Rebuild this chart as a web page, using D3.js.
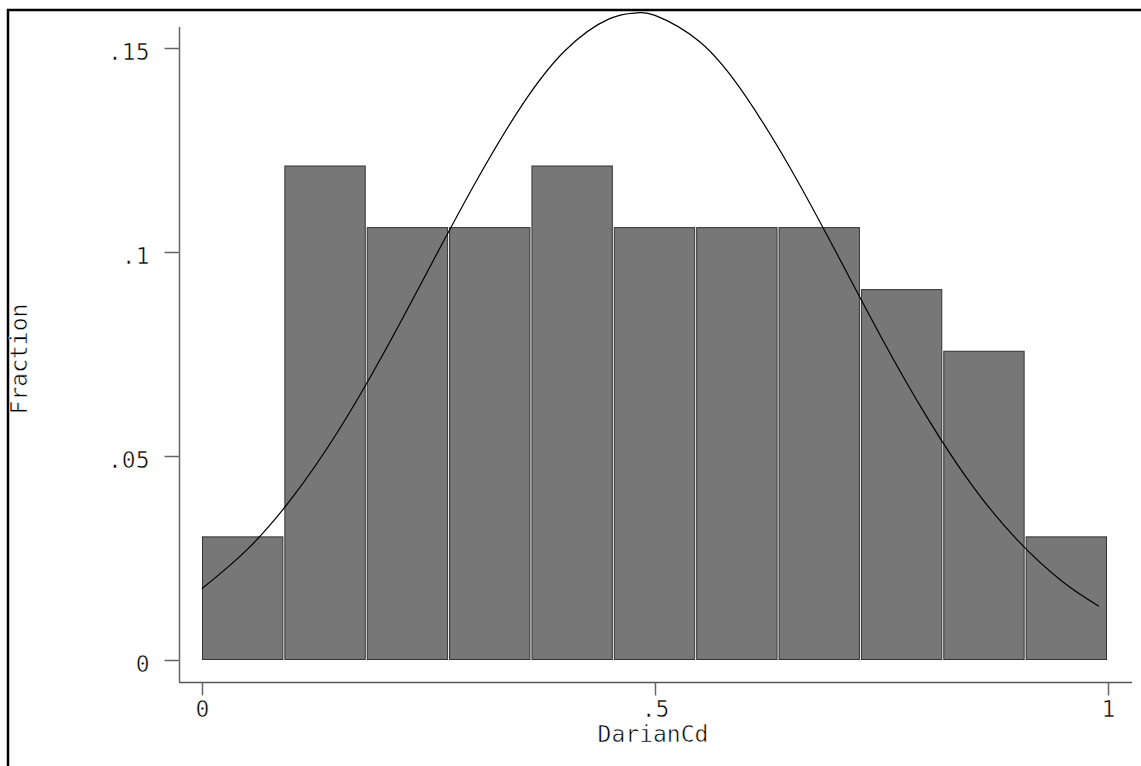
<!doctype html>
<html lang="en">
<head>
  <meta charset="utf-8">
  <title>DarianCd histogram</title>
  <style>
    body { margin: 0; background: #fff; }
    text {
      font-family: "DejaVu Sans Mono", monospace;
      font-size: 23px;
      fill: #000;
      stroke: #fff;
      stroke-width: 0.55px;
    }
  </style>
</head>
<body>
  <div id="vis"></div>
  <script src="https://cdn.jsdelivr.net/npm/d3@7/dist/d3.min.js"></script>
  <script>
    // bin fractions (11 equal bins over 0..1)
    const binStarts = [0, 1/11, 2/11, 3/11, 4/11, 5/11, 6/11, 7/11, 8/11, 9/11, 10/11];
    const binEnds = [1/11, 2/11, 3/11, 4/11, 5/11, 6/11, 7/11, 8/11, 9/11, 10/11, 1];
    const fractions = [0.0303, 0.1212, 0.1061, 0.1061, 0.1212, 0.1061, 0.1061, 0.1061, 0.0909, 0.0758, 0.0303];

    // normal overlay
    const curveX = [0, 0.05, 0.10, 0.15, 0.20, 0.25, 0.30, 0.35, 0.40, 0.45, 0.48, 0.50, 0.55, 0.60, 0.65, 0.70, 0.75, 0.80, 0.85, 0.90, 0.95, 0.99];
    const curveY = [0.0175, 0.0271, 0.0399, 0.0560, 0.0750, 0.0957, 0.1163, 0.1349, 0.1492, 0.1572, 0.1586, 0.1580, 0.1514, 0.1382, 0.1203, 0.0999, 0.0790, 0.0596, 0.0428, 0.0294, 0.0192, 0.0132];

    const xTicks = [0, 0.5, 1];
    const xTickLabels = ['0', '.5', '1'];
    const yTicks = [0, 0.05, 0.1, 0.15];
    const yTickLabels = ['0', '.05', '.1', '.15'];

    const w = 1141, h = 766;
    const axisX = 179, axisY = 682;

    const x = d3.scaleLinear().domain([0, 1]).range([202, 1108]);
    const y = d3.scaleLinear().domain([0, 0.15]).range([660, 48]);

    const svg = d3.select('#vis')
      .append('svg')
        .attr('width', w)
        .attr('height', h);

    // outer frame (only top/left visible)
    svg.append('rect')
      .attr('x', 8)
      .attr('y', 10)
      .attr('width', w + 20)
      .attr('height', h + 20)
      .attr('fill', 'none')
      .attr('stroke', '#000')
      .attr('stroke-width', 2.5);

    // bars
    svg.selectAll('.bar')
      .data(fractions)
      .enter()
      .append('rect')
        .attr('class', 'bar')
        .attr('x', (d, i) => x(binStarts[i]) + 0.5)
        .attr('y', d => y(d) + 0.5)
        .attr('width', (d, i) => x(binEnds[i]) - x(binStarts[i]) - 2)
        .attr('height', d => y(0) - y(d) - 1)
        .attr('fill', '#777')
        .attr('stroke', '#333')
        .attr('stroke-width', 1);

    // normal curve
    const line = d3.line()
      .x(d => x(d[0]))
      .y(d => y(d[1]))
      .curve(d3.curveNatural);

    svg.append('path')
      .datum(curveX.map((v, i) => [v, curveY[i]]))
      .attr('d', line)
      .attr('fill', 'none')
      .attr('stroke', '#000')
      .attr('stroke-width', 1.2);

    // axis lines
    svg.append('line')
      .attr('x1', axisX + 0.5).attr('x2', axisX + 0.5)
      .attr('y1', 27).attr('y2', axisY)
      .attr('stroke', '#666').attr('stroke-width', 1.5);
    svg.append('line')
      .attr('x1', axisX).attr('x2', 1132)
      .attr('y1', axisY + 0.5).attr('y2', axisY + 0.5)
      .attr('stroke', '#555').attr('stroke-width', 1.5);

    // y axis ticks
    const yAxis = d3.axisLeft(y)
      .tickValues(yTicks)
      .tickFormat((d, i) => yTickLabels[i])
      .tickSize(15);
    const gy = svg.append('g')
      .attr('transform', 'translate(' + (axisX + 0.5) + ', 0)')
      .call(yAxis);
    gy.select('.domain').remove();
    gy.selectAll('.tick line').attr('stroke', '#666').attr('stroke-width', 1.5);
    gy.selectAll('.tick text')
      .attr('x', -30)
      .attr('dy', null)
      .attr('y', 11)
      .attr('fill', null);

    // x axis ticks
    const xAxis = d3.axisBottom(x)
      .tickValues(xTicks)
      .tickFormat((d, i) => xTickLabels[i])
      .tickSize(13);
    const gx = svg.append('g')
      .attr('transform', 'translate(0, ' + (axisY + 0.5) + ')')
      .call(xAxis);
    gx.select('.domain').remove();
    gx.selectAll('.tick line').attr('stroke', '#666').attr('stroke-width', 1.5);
    gx.selectAll('.tick text')
      .attr('dy', null)
      .attr('y', 34)
      .attr('fill', null);
    gx.attr('font-size', null).attr('font-family', null);
    gy.attr('font-size', null).attr('font-family', null);

    // axis titles
    svg.append('text')
      .attr('x', 653)
      .attr('y', 742)
      .style('text-anchor', 'middle')
      .text('DarianCd');

    svg.append('text')
      .attr('transform', 'rotate(-90)')
      .attr('x', -359)
      .attr('y', 27)
      .style('text-anchor', 'middle')
      .text('Fraction');
  </script>
</body>
</html>
